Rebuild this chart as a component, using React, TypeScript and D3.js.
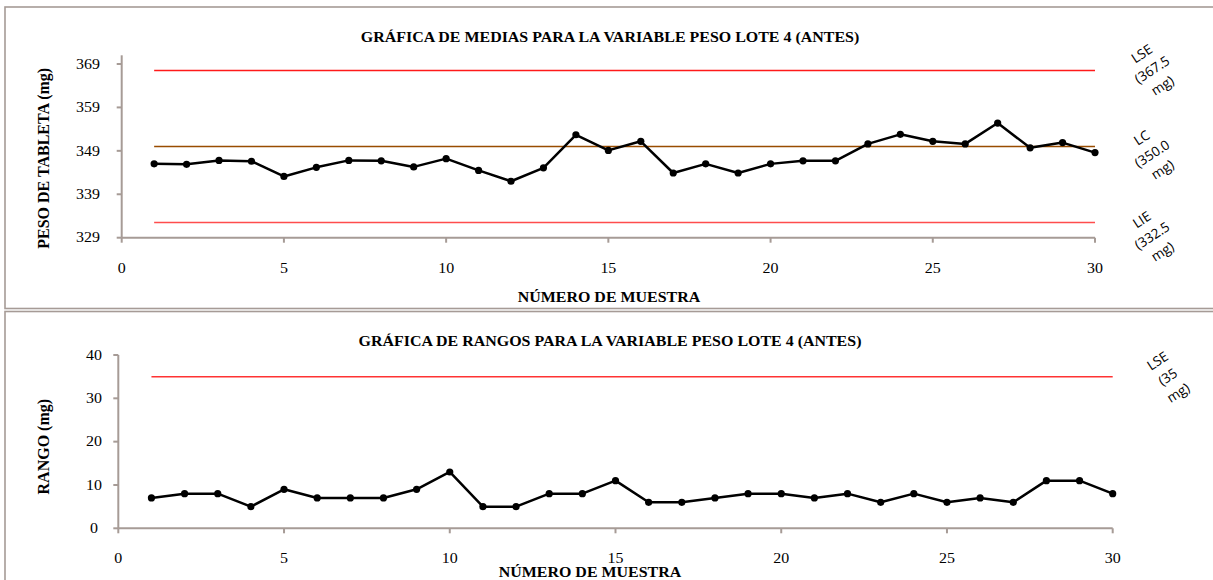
import React from "react";
import * as d3 from "d3";

// Sample numbers (1..30)
const samples: number[] = d3.range(1, 31);

// Mean tablet weight per sample (mg)
const means: number[] = [
  346.0, 345.9, 346.8, 346.6, 343.1, 345.2, 346.8, 346.7, 345.3, 347.2,
  344.5, 342.0, 345.1, 352.7, 349.1, 351.2, 343.9, 346.0, 343.9, 346.0,
  346.7, 346.7, 350.6, 352.8, 351.2, 350.6, 355.4, 349.7, 350.9, 348.6,
];

// Range per sample (mg)
const ranges: number[] = [
  7, 8, 8, 5, 9, 7, 7, 7, 9, 13, 5, 5, 8, 8, 11, 6, 6, 7, 8, 8, 7, 8, 6, 8, 6, 7, 6, 11, 11, 8,
];

// Control limits
const meanLimits = [
  { key: "LSE", value: 367.5, text: "(367.5", color: "#ff1a1a", nudge: -1 },
  { key: "LC", value: 350.0, text: "(350.0", color: "#994c00", nudge: 7 },
  { key: "LIE", value: 332.5, text: "(332.5", color: "#ff4d4d", nudge: 13 },
];
const rangeLimits = [{ key: "LSE", value: 35, text: "(35", color: "#ff3333", nudge: 0 }];

const meanTicks = [329, 339, 349, 359, 369];
const rangeTicks = [0, 10, 20, 30, 40];
const xTicks = [0, 5, 10, 15, 20, 25, 30];

const titleMeans = "GRÁFICA DE MEDIAS PARA LA VARIABLE PESO LOTE 4 (ANTES)";
const titleRanges = "GRÁFICA DE RANGOS PARA LA VARIABLE PESO LOTE 4 (ANTES)";
const xTitle = "NÚMERO DE MUESTRA";
const yTitleMeans = "PESO DE TABLETA (mg)";
const yTitleRanges = "RANGO (mg)";

const AXIS = "#a69b96";
const SERIF = "'Liberation Serif', 'Times New Roman', serif";
const SANS = "'Open Sans', 'Liberation Sans', sans-serif";
const FS = 14; // base serif size
const SX = 1.14; // horizontal text stretch

type Limit = { key: string; value: number; text: string; color: string; nudge: number };

interface PanelProps {
  values: number[];
  yDomain: [number, number];
  yTicks: number[];
  xRange: [number, number];
  yRange: [number, number];
  limits: Limit[];
  title: string;
  titleY: number;
  xTitleX: number;
  xTitleY: number;
  yTitle: string;
  yTitleY: number;
  tickLabelX: number;
  limitLabelDx: number;
}

function Panel(p: PanelProps) {
  const x = d3.scaleLinear().domain([0, 30]).range(p.xRange);
  const y = d3.scaleLinear().domain(p.yDomain).range(p.yRange);
  const line = d3
    .line<number>()
    .x((_, i) => x(samples[i]))
    .y((d) => y(d));
  const y0 = y(p.yDomain[0]);
  const x0 = x(0);

  return (
    <g>
      {/* title */}
      <text
        transform={`translate(610,${p.titleY}) scale(${SX},1)`}
        textAnchor="middle"
        fontFamily={SERIF}
        fontWeight="bold"
        fontSize={FS}
        fill="#000"
      >
        {p.title}
      </text>

      {/* limit lines */}
      {p.limits.map((l) => (
        <line
          key={l.key}
          x1={x(1)}
          x2={x(30)}
          y1={y(l.value)}
          y2={y(l.value)}
          stroke={l.color}
          strokeWidth={1.5}
        />
      ))}

      {/* y axis */}
      <line x1={x0} x2={x0} y1={y0} y2={y(p.yDomain[1])} stroke={AXIS} strokeWidth={2} />
      {p.yTicks.map((t) => (
        <g key={t}>
          <line x1={x0 - 5} x2={x0} y1={y(t)} y2={y(t)} stroke={AXIS} strokeWidth={2} />
          <text
            transform={`translate(${p.tickLabelX},${y(t)}) scale(${SX},1)`}
            textAnchor="middle"
            dominantBaseline="central"
            fontFamily={SERIF}
            fontSize={FS}
            fill="#000"
          >
            {t}
          </text>
        </g>
      ))}

      {/* x axis */}
      <line x1={x0} x2={x(30)} y1={y0} y2={y0} stroke={AXIS} strokeWidth={2} />
      {xTicks.map((t) => (
        <g key={t}>
          <line x1={x(t)} x2={x(t)} y1={y0} y2={y0 + 5} stroke={AXIS} strokeWidth={2} />
          <text
            transform={`translate(${x(t)},${y0 + 30.5}) scale(${SX},1)`}
            textAnchor="middle"
            dominantBaseline="central"
            fontFamily={SERIF}
            fontSize={FS}
            fill="#000"
          >
            {t}
          </text>
        </g>
      ))}

      {/* axis titles */}
      <text
        transform={`translate(${p.xTitleX},${p.xTitleY}) scale(${SX},1)`}
        textAnchor="middle"
        fontFamily={SERIF}
        fontWeight="bold"
        fontSize={FS}
        fill="#000"
      >
        {xTitle}
      </text>
      <text
        transform={`translate(43,${p.yTitleY}) rotate(-90)`}
        textAnchor="middle"
        dominantBaseline="central"
        fontFamily={SERIF}
        fontWeight="bold"
        fontSize={16}
        fill="#000"
      >
        {p.yTitle}
      </text>

      {/* series */}
      <path d={line(p.values) ?? ""} fill="none" stroke="#000" strokeWidth={2.5} strokeLinejoin="round" />
      {p.values.map((v, i) => (
        <circle key={i} cx={x(samples[i])} cy={y(v)} r={3.6} fill="#000" />
      ))}

      {/* limit labels */}
      {p.limits.map((l) => (
        <g
          key={l.key}
          transform={`translate(${x(30) + p.limitLabelDx},${y(l.value) + l.nudge}) rotate(-33)`}
        >
          <text textAnchor="middle" dominantBaseline="central" fontFamily={SANS} fontSize={13.5} fill="#000">
            <tspan x={0} y={-19}>{l.key}</tspan>
            <tspan x={0} y={0}>{l.text}</tspan>
            <tspan x={0} y={19}>mg)</tspan>
          </text>
        </g>
      ))}
    </g>
  );
}

export default function App() {
  return (
    <svg
      width={1213}
      height={580}
      style={{ position: "absolute", left: 0, top: 0, background: "#fff", overflow: "hidden" }}
    >
      <rect x={0} y={0} width={1213} height={580} fill="#fff" />
      <rect x={5} y={7} width={1230} height={301.5} fill="none" stroke={AXIS} strokeWidth={1.6} />
      <rect x={5} y={311.5} width={1230} height={300} fill="none" stroke={AXIS} strokeWidth={1.6} />

      <Panel
        values={means}
        yDomain={[329, 371]}
        yTicks={meanTicks}
        xRange={[121.7, 1095]}
        yRange={[237.7, 55.3]}
        limits={meanLimits}
        title={titleMeans}
        titleY={42}
        xTitleX={609}
        xTitleY={301.5}
        yTitle={yTitleMeans}
        yTitleY={158.3}
        tickLabelX={88}
        limitLabelDx={57}
      />
      <Panel
        values={ranges}
        yDomain={[0, 40]}
        yTicks={rangeTicks}
        xRange={[118.3, 1112.7]}
        yRange={[528.3, 355]}
        limits={rangeLimits}
        title={titleRanges}
        titleY={345.5}
        xTitleX={590}
        xTitleY={576.5}
        yTitle={yTitleRanges}
        yTitleY={446.7}
        tickLabelX={94}
        limitLabelDx={55}
      />
    </svg>
  );
}
